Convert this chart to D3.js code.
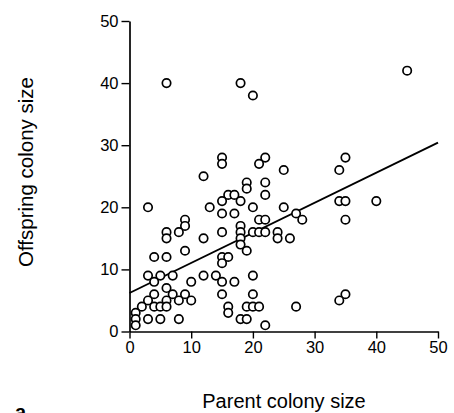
<!DOCTYPE html>
<html>
<head>
<meta charset="utf-8">
<script src="https://cdn.jsdelivr.net/npm/d3@7"></script>
<style>
  body { margin: 0; background: #fff; }
  text { font-family: "Liberation Sans", Arial, sans-serif; fill: #000; }
</style>
</head>
<body>
<div id="chart"></div>
<script>
// parent colony size (x) and offspring colony size (y)
const parentSize = [
  6, 18, 20, 45,
  15, 15, 22, 21, 35, 34,
  12, 25, 19, 19, 22,
  16, 17, 22,
  3, 13, 15, 18, 20, 25, 34, 35, 40,
  15, 17, 27, 28, 35,
  9, 9, 21, 22,
  6, 6, 8, 15, 18, 18, 18, 18, 19,
  20, 21, 22, 24, 24, 26, 12,
  9, 4, 6, 15, 16, 15,
  3, 5, 7, 4, 12, 14, 20,
  10, 15, 17, 6,
  4, 7, 9, 15, 20, 35,
  3, 6, 8, 10, 34,
  2, 4, 5, 6, 16, 19, 20, 21, 27,
  16, 1,
  3, 5, 8, 18, 19, 1,
  22, 1
];
const offspringSize = [
  40, 40, 38, 42,
  28, 27, 28, 27, 28, 26,
  25, 26, 24, 23, 24,
  22, 22, 22,
  20, 20, 21, 21, 20, 20, 21, 21, 21,
  19, 19, 19, 18, 18,
  18, 17, 18, 18,
  16, 15, 16, 16, 17, 16, 15, 14, 13,
  16, 16, 16, 16, 15, 15, 15,
  13, 12, 12, 12, 12, 11,
  9, 9, 9, 8, 9, 9, 9,
  8, 8, 8, 7,
  6, 6, 6, 6, 6, 6,
  5, 5, 5, 5, 5,
  4, 4, 4, 4, 4, 4, 4, 4, 4,
  3, 3,
  2, 2, 2, 2, 2, 2,
  1, 1
];
// regression line end points
const fitX = [0, 50];
const fitY = [6.2, 30.4];
const tickValues = [0, 10, 20, 30, 40, 50];

const margin = {top: 21, left: 129.5};
const width = 308.5, height = 310.5;

const svg = d3.select("#chart").append("svg")
    .attr("width", 454)
    .attr("height", 413);

const g = svg.append("g")
    .attr("transform", "translate(" + margin.left + "," + margin.top + ")");

const x = d3.scaleLinear().domain([0, 50]).range([0, width]);
const y = d3.scaleLinear().domain([0, 50]).range([height, 0]);

// axes
const xAxis = g.append("g")
    .attr("transform", "translate(0," + height + ")")
    .call(d3.axisBottom(x).tickValues(tickValues).tickSize(7).tickPadding(3).tickSizeOuter(0));
const yAxis = g.append("g")
    .call(d3.axisLeft(y).tickValues(tickValues).tickSize(8).tickPadding(3).tickSizeOuter(0));

[xAxis, yAxis].forEach(a => {
    a.select(".domain").attr("stroke", "#000").attr("stroke-width", 1.7);
    a.selectAll(".tick line").attr("stroke", "#000").attr("stroke-width", 1.4);
    a.selectAll(".tick text")
        .style("font-family", "Liberation Sans, Arial, sans-serif")
        .style("font-size", "16.5px")
        .attr("fill", "#000");
});

// fitted line
g.append("line")
    .attr("x1", x(fitX[0])).attr("y1", y(fitY[0]))
    .attr("x2", x(fitX[1])).attr("y2", y(fitY[1]))
    .attr("stroke", "#000")
    .attr("stroke-width", 1.9);

// points
const pts = parentSize.map((d, i) => ({x: d, y: offspringSize[i]}));
g.selectAll(".pt")
    .data(pts)
    .join("circle")
    .attr("class", "pt")
    .attr("cx", d => x(d.x))
    .attr("cy", d => y(d.y))
    .attr("r", 4.2)
    .attr("fill", "#fff")
    .attr("stroke", "#000")
    .attr("stroke-width", 1.7);

// axis titles
svg.append("text")
    .attr("transform", "translate(33,172) rotate(-90)")
    .attr("text-anchor", "middle")
    .style("font-size", "20.5px")
    .text("Offspring colony size");

svg.append("text")
    .attr("x", 284)
    .attr("y", 408)
    .attr("text-anchor", "middle")
    .style("font-size", "20px")
    .text("Parent colony size");

// panel letter, cut off at bottom edge as in the original
svg.append("text")
    .attr("x", 15)
    .attr("y", 419)
    .style("font-size", "20px")
    .style("font-weight", "bold")
    .text("a");
</script>
</body>
</html>
